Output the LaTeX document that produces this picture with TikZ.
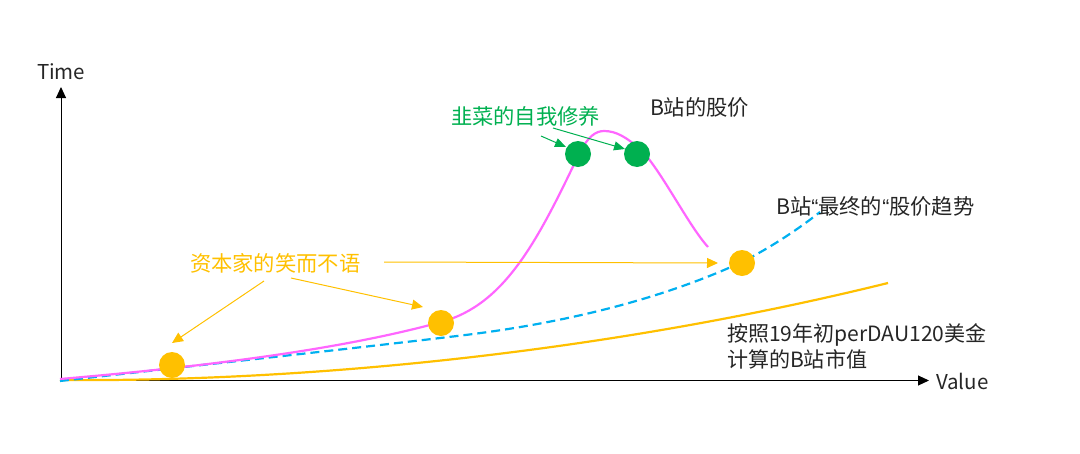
\documentclass[tikz,border=0pt]{standalone}
\usepackage{fontspec}
\setmainfont{Noto Sans CJK SC}
\newfontfamily\qf{Liberation Sans}
\usetikzlibrary{arrows.meta}
\definecolor{cgreen}{HTML}{00B050}
\definecolor{cyel}{HTML}{FFC000}
\definecolor{cpink}{HTML}{FF66FF}
\definecolor{cblue}{HTML}{00B0F0}
\definecolor{ctext}{HTML}{262626}
\tikzset{
  lbl/.style={inner sep=0pt,outer sep=0pt,font=\fontsize{21.3}{26}\selectfont,text=ctext,anchor=west,align=left},
  ylbl/.style={lbl,text=cyel},
  glbl/.style={lbl,text=cgreen},
  ydot/.style={circle,fill=cyel,minimum size=26pt,inner sep=0pt},
  gdot/.style={circle,fill=cgreen,minimum size=26pt,inner sep=0pt},
  axisline/.style={draw=black,line width=1pt,-{Triangle[length=11pt,width=10pt]}},
  yarrow/.style={draw=cyel,line width=1pt,-{Triangle[length=11pt,width=10pt]}},
  garrow/.style={draw=cgreen,line width=1pt,-{Triangle[length=11pt,width=9pt]}},
  curveline/.style={line width=2.2pt}
}
\begin{document}
\begin{tikzpicture}[x=1pt,y=-1pt]
\useasboundingbox (0,0) rectangle (1080,453);
\coordinate (o) at (61,380.5);
\coordinate (ytip) at (61,87);
\coordinate (xtip) at (929,380.5);
\draw[axisline] (o) -- (ytip);
\draw[axisline] (o) -- (xtip);
% curves
\draw[cyel,curveline] (60,380) .. controls (300,382) and (600,354) .. (888,283);
\draw[cblue,curveline,dash pattern=on 9pt off 5pt] (60,381) .. controls (200,365) and (340,350) .. (457,336) .. controls (560,324) and (660,300) .. (742,262) .. controls (770,248) and (800,228) .. (820,212);
\draw[cpink,curveline] (60,379) .. controls (200,367) and (340,350) .. (441,322) .. controls (505,305) and (538,240) .. (579,154) .. controls (588,136) and (596,131) .. (604,131) .. controls (616,131) and (626,137) .. (640,149) .. controls (660,168) and (688,225) .. (708,247);
% dots
\node[ydot] (d1) at (172,365) {};
\node[ydot] (d2) at (441,323) {};
\node[ydot] (d3) at (742,263) {};
\node[gdot] (g1) at (578,154) {};
\node[gdot] (g2) at (637,154) {};
% labels
\node[lbl,font=\fontsize{20.5}{26}\selectfont] (time) at (37,72) {Time};
\node[lbl,font=\fontsize{20.5}{26}\selectfont] (value) at (936,381) {Value};
\node[glbl] (jc) at (451,116) {韭菜的自我修养};
\node[lbl] (gj) at (650,107) {B站的股价};
\node[lbl] (zs) at (776,206) {B站{\qf “}最终的{\qf “}股价趋势};
\node[ylbl] (zb) at (190,263) {资本家的笑而不语};
\node[lbl,font=\fontsize{21.05}{26}\selectfont] (hs) at (727,346) {按照19年初perDAU120美金\\计算的B站市值};
% arrows
\coordinate (a1) at (264,281);
\coordinate (a1e) at (172,343);
\coordinate (a2) at (291,278);
\coordinate (a2e) at (423,307);
\coordinate (a3) at (384,262);
\coordinate (a3e) at (718,263);
\coordinate (b1) at (541,136);
\coordinate (b1e) at (566,147);
\coordinate (b2) at (553,128);
\coordinate (b2e) at (625,149);
\draw[yarrow] (a1) -- (a1e);
\draw[yarrow] (a2) -- (a2e);
\draw[yarrow] (a3) -- (a3e);
\draw[garrow] (b1) -- (b1e);
\draw[garrow] (b2) -- (b2e);
\end{tikzpicture}
\end{document}
